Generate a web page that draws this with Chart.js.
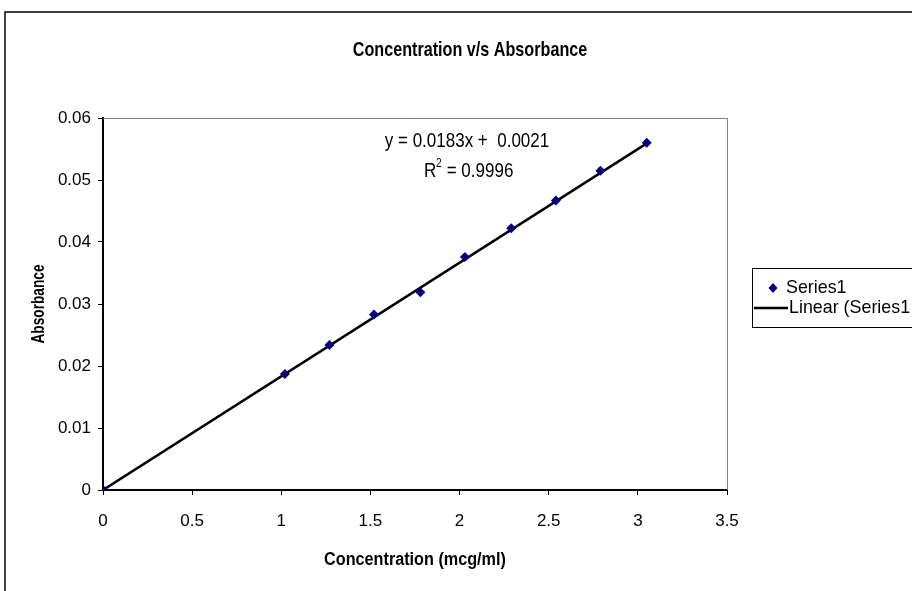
<!DOCTYPE html>
<html>
<head>
<meta charset="utf-8">
<script src="https://cdn.jsdelivr.net/npm/chart.js@4.4.1/dist/chart.umd.min.js"></script>
<style>
  html, body { margin: 0; padding: 0; background: #fff; }
  #wrap { width: 912px; height: 591px; }
</style>
</head>
<body>
<div id="wrap"><canvas id="chart" width="912" height="591"></canvas></div>
<script>
// concentration (mcg/ml) and absorbance
const concentration = [0, 1.02, 1.27, 1.52, 1.78, 2.03, 2.29, 2.54, 2.79, 3.05];
const absorbance = [0, 0.0187, 0.0234, 0.0283, 0.0319, 0.0376, 0.0422, 0.0467, 0.0515, 0.056];
// trendline ends as drawn
const trendX = [0, 3.05];
const trendY = [0, 0.0559];
const xTicks = [0, 0.5, 1, 1.5, 2, 2.5, 3, 3.5];
const yTicks = [0, 0.01, 0.02, 0.03, 0.04, 0.05, 0.06];

const FONT = '"Liberation Sans", Arial, sans-serif';

// draw text squeezed horizontally, Excel-style
function squeezed(ctx, text, x, y, sx, angle) {
  ctx.save();
  ctx.translate(x, y);
  if (angle) ctx.rotate(angle);
  ctx.scale(sx, 1);
  ctx.fillText(text, 0, 0);
  ctx.restore();
}

// title, equation, axis titles, legend and outer frame
const decorations = {
  id: 'decorations',
  afterDraw(chart) {
    const ctx = chart.ctx;
    const a = chart.chartArea;
    ctx.save();

    // outer frame (runs off the right and bottom)
    ctx.strokeStyle = '#000';
    ctx.lineWidth = 1.5;
    ctx.beginPath();
    ctx.moveTo(5, 591);
    ctx.lineTo(5, 12);
    ctx.lineTo(912, 12);
    ctx.stroke();

    // plot area top/right border
    ctx.strokeStyle = '#808080';
    ctx.lineWidth = 1;
    ctx.beginPath();
    ctx.moveTo(a.left, a.top + 0.5);
    ctx.lineTo(a.right + 0.5, a.top + 0.5);
    ctx.lineTo(a.right + 0.5, a.bottom);
    ctx.stroke();

    ctx.fillStyle = '#000';
    ctx.textAlign = 'center';
    ctx.textBaseline = 'middle';
    ctx.font = 'bold 21px ' + FONT;
    squeezed(ctx, 'Concentration v/s Absorbance', 470, 50, 0.77);

    ctx.font = 'bold 18px ' + FONT;
    squeezed(ctx, 'Concentration (mcg/ml)', (a.left + a.right) / 2, 560, 0.9);
    ctx.font = 'bold 19px ' + FONT;
    squeezed(ctx, 'Absorbance', 39, (a.top + a.bottom) / 2, 0.72, -Math.PI / 2);

    // trendline equation
    ctx.font = '20px ' + FONT;
    squeezed(ctx, 'y = 0.0183x +  0.0021', 467, 141, 0.85);
    ctx.textAlign = 'left';
    squeezed(ctx, 'R', 424, 171, 0.85);
    ctx.font = '12px ' + FONT;
    squeezed(ctx, '2', 436, 164, 0.85);
    ctx.font = '20px ' + FONT;
    squeezed(ctx, ' = 0.9996', 442, 171, 0.85);

    // legend
    ctx.strokeStyle = '#000';
    ctx.lineWidth = 1;
    ctx.strokeRect(752.5, 268.5, 200, 59);
    ctx.fillStyle = '#000080';
    ctx.beginPath();
    ctx.moveTo(773, 283);
    ctx.lineTo(777.5, 288);
    ctx.lineTo(773, 293);
    ctx.lineTo(768.5, 288);
    ctx.closePath();
    ctx.fill();
    ctx.strokeStyle = '#000';
    ctx.lineWidth = 2.5;
    ctx.beginPath();
    ctx.moveTo(754, 308);
    ctx.lineTo(788, 308);
    ctx.stroke();
    ctx.fillStyle = '#000';
    ctx.font = '19px ' + FONT;
    squeezed(ctx, 'Series1', 786, 288, 0.94);
    squeezed(ctx, 'Linear (Series1', 789, 308, 0.94);

    ctx.restore();
  }
};

new Chart(document.getElementById('chart'), {
  type: 'scatter',
  data: {
    datasets: [
      {
        label: 'Series1',
        data: concentration.map((x, i) => ({ x: x, y: absorbance[i] })),
        pointStyle: 'rectRot',
        pointRadius: 5,
        backgroundColor: '#000080',
        borderColor: '#000080',
        borderWidth: 0,
        order: 1
      },
      {
        label: 'Linear (Series1)',
        type: 'line',
        data: trendX.map((x, i) => ({ x: x, y: trendY[i] })),
        borderColor: '#000',
        borderWidth: 2.5,
        pointRadius: 0,
        fill: false,
        order: 2
      }
    ]
  },
  options: {
    responsive: false,
    animation: false,
    layout: { padding: { left: 0, right: 185, top: 118, bottom: 0 } },
    plugins: { legend: { display: false }, tooltip: { enabled: false } },
    scales: {
      x: {
        type: 'linear',
        min: 0,
        max: 3.5,
        afterBuildTicks: s => { s.ticks = xTicks.map(v => ({ value: v })); },
        afterFit: s => { s.height = 101; },
        grid: { drawOnChartArea: false, drawTicks: true, tickLength: 5, color: '#000' },
        border: { color: '#000', width: 2 },
        ticks: {
          color: '#000', font: { family: FONT, size: 17 }, padding: 16, maxRotation: 0,
          callback: v => String(v)
        }
      },
      y: {
        min: 0,
        max: 0.06,
        afterBuildTicks: s => { s.ticks = yTicks.map(v => ({ value: v })); },
        afterFit: s => { s.width = 103; },
        grid: { drawOnChartArea: false, drawTicks: true, tickLength: 5, color: '#000' },
        border: { color: '#000', width: 2 },
        ticks: {
          color: '#000', font: { family: FONT, size: 17 }, padding: 7,
          callback: v => String(v)
        }
      }
    }
  },
  plugins: [decorations]
});
</script>
</body>
</html>
